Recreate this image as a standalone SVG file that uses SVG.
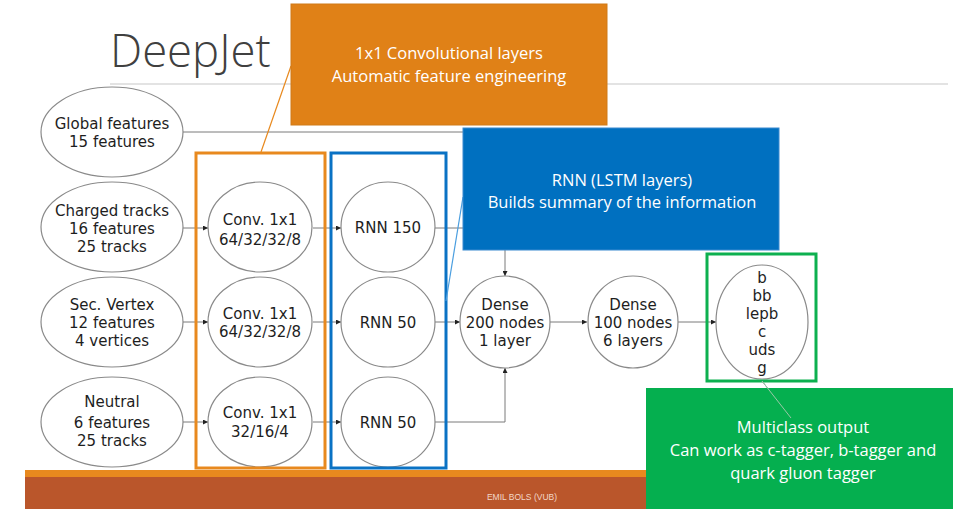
<svg xmlns="http://www.w3.org/2000/svg" width="953" height="509" viewBox="0 0 953 509">
  <defs>
    <marker id="arr" viewBox="0 0 6 6" refX="6" refY="3" markerWidth="5" markerHeight="5" orient="auto" markerUnits="userSpaceOnUse">
      <path d="M0,0 L6,3 L0,6 z" fill="#222"/>
    </marker>
    <style>
      .node ellipse { fill: #fff; stroke: #8a8a8a; stroke-width: 1.2; }
      .node text { font-family: "DejaVu Sans", Verdana, sans-serif; font-size: 15px; fill: #1e1e1e; text-anchor: middle; }
      .conn { fill: none; stroke: #7a7a7a; stroke-width: 1; }
      .callout text { font-family: "Open Sans", "Liberation Sans", sans-serif; font-size: 16.5px; fill: #fff; text-anchor: middle; }
      .frame { fill: none; stroke-width: 3; }
    </style>
  </defs>

  <!-- slide background -->
  <rect x="0" y="0" width="953" height="509" fill="#fff"/>

  <!-- title -->
  <text x="110" y="67" font-family="'Open Sans', 'Liberation Sans', sans-serif" font-weight="300" font-size="45.5" fill="#404040">DeepJet</text>
  <line x1="110" y1="84" x2="948" y2="84" stroke="#c8c8c8" stroke-width="1.2"/>

  <!-- footer band -->
  <rect x="25" y="470" width="621" height="7" fill="#E8891E"/>
  <rect x="25" y="477" width="621" height="32" fill="#BA562B"/>
  <text x="522" y="500" font-family="'Liberation Sans', Arial, sans-serif" font-size="8.5" fill="#f2d6c8" text-anchor="middle">EMIL BOLS (VUB)</text>

  <!-- connectors -->
  <g id="connectors">
    <path class="conn" d="M183,132 H505 V276" marker-end="url(#arr)"/>
    <path class="conn" d="M434,228 H505"/>
    <path class="conn" d="M183,228 H208" marker-end="url(#arr)"/>
    <path class="conn" d="M313,228 H341" marker-end="url(#arr)"/>
    <path class="conn" d="M183,322 H208" marker-end="url(#arr)"/>
    <path class="conn" d="M313,322 H341" marker-end="url(#arr)"/>
    <path class="conn" d="M434,322 H460" marker-end="url(#arr)"/>
    <path class="conn" d="M183,422 H208" marker-end="url(#arr)"/>
    <path class="conn" d="M313,422 H341" marker-end="url(#arr)"/>
    <path class="conn" d="M434,422 H505 V368" marker-end="url(#arr)"/>
    <path class="conn" d="M550,322 H587" marker-end="url(#arr)"/>
    <path class="conn" d="M678,322 H716" marker-end="url(#arr)"/>
  </g>

  <!-- input nodes -->
  <g id="global" class="node">
    <ellipse cx="112" cy="132" rx="71" ry="45"/>
    <text x="112" y="129">Global features</text>
    <text x="112" y="147">15 features</text>
  </g>
  <g id="charged" class="node">
    <ellipse cx="112" cy="227" rx="71" ry="45"/>
    <text x="112" y="216">Charged tracks</text>
    <text x="112" y="234">16 features</text>
    <text x="112" y="252">25 tracks</text>
  </g>
  <g id="vertex" class="node">
    <ellipse cx="112" cy="322" rx="71" ry="45"/>
    <text x="112" y="310">Sec. Vertex</text>
    <text x="112" y="328">12 features</text>
    <text x="112" y="346">4 vertices</text>
  </g>
  <g id="neutral" class="node">
    <ellipse cx="112" cy="422" rx="71" ry="45"/>
    <text x="112" y="407">Neutral</text>
    <text x="112" y="428">6 features</text>
    <text x="112" y="446">25 tracks</text>
  </g>

  <!-- convolution nodes -->
  <g id="conv1" class="node">
    <ellipse cx="260" cy="227" rx="52" ry="45"/>
    <text x="260" y="225">Conv. 1x1</text>
    <text x="260" y="245">64/32/32/8</text>
  </g>
  <g id="conv2" class="node">
    <ellipse cx="260" cy="322" rx="52" ry="45"/>
    <text x="260" y="319">Conv. 1x1</text>
    <text x="260" y="337">64/32/32/8</text>
  </g>
  <g id="conv3" class="node">
    <ellipse cx="260" cy="422" rx="52" ry="45"/>
    <text x="260" y="418">Conv. 1x1</text>
    <text x="260" y="437">32/16/4</text>
  </g>

  <!-- recurrent nodes -->
  <g id="rnn1" class="node">
    <ellipse cx="388" cy="227" rx="47" ry="45"/>
    <text x="388" y="233">RNN 150</text>
  </g>
  <g id="rnn2" class="node">
    <ellipse cx="388" cy="322" rx="47" ry="45"/>
    <text x="388" y="328">RNN 50</text>
  </g>
  <g id="rnn3" class="node">
    <ellipse cx="388" cy="422" rx="47" ry="45"/>
    <text x="388" y="428">RNN 50</text>
  </g>

  <!-- dense nodes -->
  <g id="dense1" class="node">
    <ellipse cx="505" cy="322" rx="45" ry="46"/>
    <text x="505" y="310">Dense</text>
    <text x="505" y="328">200 nodes</text>
    <text x="505" y="346">1 layer</text>
  </g>
  <g id="dense2" class="node">
    <ellipse cx="633" cy="322" rx="45" ry="46"/>
    <text x="633" y="310">Dense</text>
    <text x="633" y="328">100 nodes</text>
    <text x="633" y="346">6 layers</text>
  </g>

  <!-- output node -->
  <g id="output" class="node">
    <ellipse cx="762" cy="322" rx="46" ry="57"/>
    <text x="762" y="283">b</text>
    <text x="762" y="301">bb</text>
    <text x="762" y="319">lepb</text>
    <text x="762" y="337">c</text>
    <text x="762" y="355">uds</text>
    <text x="762" y="373">g</text>
  </g>

  <!-- group frames -->
  <rect class="frame" x="196" y="153" width="129" height="315" stroke="#E8891E"/>
  <rect class="frame" x="331" y="153" width="115" height="315" stroke="#0A72C4"/>
  <rect class="frame" x="707" y="254" width="109" height="127" stroke="#0DB04F"/>

  <!-- callouts -->
  <g id="conv-callout" class="callout">
    <line x1="291" y1="66" x2="261" y2="152" stroke="#E8891E" stroke-width="1.2"/>
    <rect x="291" y="4" width="316" height="121" fill="#E08117" stroke="#d07a18" stroke-width="1"/>
    <text x="449" y="59">1x1 Convolutional layers</text>
    <text x="449" y="82">Automatic feature engineering</text>
  </g>
  <g id="rnn-callout" class="callout">
    <line x1="463" y1="197" x2="446" y2="301" stroke="#4a9ee0" stroke-width="1.2"/>
    <rect x="463" y="128" width="316" height="122" fill="#0070C0" stroke="#3a8ad0" stroke-width="1"/>
    <text x="622" y="186">RNN (LSTM layers)</text>
    <text x="622" y="208">Builds summary of the information</text>
  </g>
  <g id="output-callout" class="callout">
    <line x1="762" y1="381" x2="791" y2="418" stroke="#8a8a8a" stroke-width="1"/>
    <rect x="646" y="388" width="307" height="121" fill="#05AF4F"/>
    <line x1="762" y1="381" x2="791" y2="418" stroke="#9ac8a8" stroke-width="1"/>
    <text x="803" y="433">Multiclass output</text>
    <text x="803" y="456">Can work as c-tagger, b-tagger and</text>
    <text x="803" y="479">quark gluon tagger</text>
  </g>
</svg>
